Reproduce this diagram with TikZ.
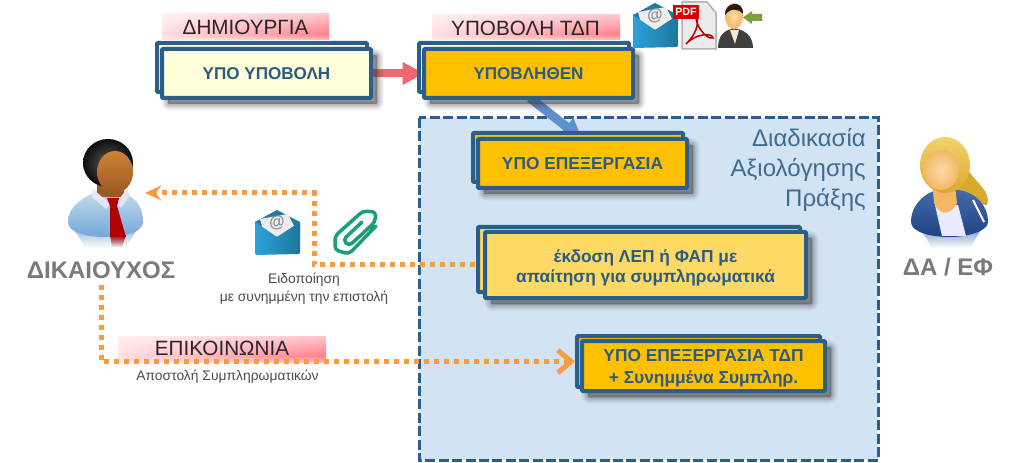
\documentclass[tikz,border=0pt]{standalone}
\usepackage{fontspec}
\setmainfont{Liberation Sans}
\usetikzlibrary{arrows.meta,shadows,fadings,calc}

\def\px{0.75pt}
\definecolor{boxline}{HTML}{2A5F8C}
\definecolor{boxtext}{HTML}{2B5B82}
\definecolor{panelfill}{HTML}{D2E3F3}
\definecolor{amber}{HTML}{FFC000}
\definecolor{paleamber}{HTML}{FFD966}
\definecolor{cream}{HTML}{FFFFD9}
\definecolor{dotorange}{HTML}{F79C40}
\definecolor{bandred}{HTML}{FF6A78}
\definecolor{mailblue}{HTML}{2AA3DA}
\definecolor{arrowred}{HTML}{F0686F}
\definecolor{arrowblue}{HTML}{5F90CE}
\definecolor{clipgreen}{HTML}{1B9E7A}
\definecolor{shirtlight}{HTML}{C2DCEF}
\definecolor{shirtdark}{HTML}{74A7D6}
\definecolor{skinbrown}{HTML}{C8823C}
\definecolor{skindark}{HTML}{9C5A22}
\definecolor{jacketblue}{HTML}{24509C}
\definecolor{hairlight}{HTML}{F2D36B}
\definecolor{hairdark}{HTML}{D9A92E}
\definecolor{skinpale}{HTML}{FBDCA8}
\definecolor{skintan}{HTML}{F2B864}
\definecolor{arrowolive}{HTML}{7F9F3F}

\tikzset{
    softshadow/.style={
        general shadow={shadow xshift=6*\px, shadow yshift=-6*\px, fill=black!75, draw=black!75, line width=13*\px, line join=round, fill opacity=.08, draw opacity=.08},
        general shadow={shadow xshift=6*\px, shadow yshift=-6*\px, fill=black!75, draw=black!75, line width=9*\px, line join=round, fill opacity=.12, draw opacity=.12},
        general shadow={shadow xshift=6*\px, shadow yshift=-6*\px, fill=black!75, draw=black!75, line width=5*\px, line join=round, fill opacity=.16, draw opacity=.16},
        general shadow={shadow xshift=6*\px, shadow yshift=-6*\px, fill=black!75, draw=black!75, line width=1*\px, line join=round, fill opacity=.2, draw opacity=.2},
    },
    boxback/.style={draw=boxline, line width=4*\px, rounded corners=0.8pt, inner sep=0pt},
    boxfront/.style={boxback, softshadow, text=boxtext, align=center},
    bandtext/.style={font=\fontsize{15.5}{18}\selectfont, text=black!85, inner sep=0pt},
    roletext/.style={font=\fontsize{18}{20}\selectfont\bfseries, text=black!52, inner sep=0pt},
    smalltext/.style={text=black!70, align=center, inner sep=0pt},
    dotline/.style={draw=dotorange, line width=5*\px, dash pattern=on 5*\px off 5*\px},
    mailicon/.pic={
        \fill[mailblue!75!black] (0,12) -- (22,0) -- (45,12) -- (45,26) -- (0,26) -- cycle;
        \fill[black!7] (5,9) -- (33,4) -- (40,18) -- (22,29) -- (8,20) -- cycle;
        \node[rotate=10, text=black!45, font=\fontsize{12}{12}\selectfont\bfseries, inner sep=0pt] (-at) at (22,13) {@};
        \shade[left color=mailblue, right color=mailblue!72!black, rounded corners=1pt]
            (0,12) -- (22,27) -- (45,12) -- (45,44) -- (0,45) -- cycle;
    },
}

\newcommand{\redband}[4]{
    \fill[left color=bandred!25, right color=bandred] (#1,#2) rectangle (#3,#4);
    \fill[white, path fading=south, opacity=.65] (#1-1,#2-1) rectangle (#3+1,#4);
    \fill[white, path fading=north, opacity=.7] (#1-1,#4-6) rectangle (#3+1,#4+1);
}

\begin{document}
\begin{tikzpicture}[x=0.75pt, y=-0.75pt]
    \fill[white, use as bounding box] (0,0) rectangle (1024,463);

    % process panel
    \draw[boxline, fill=panelfill, line width=3*\px, dash pattern=on 10*\px off 3.4*\px] (419,118) rectangle (878,460);

    \coordinate (bluefrom) at (530,98);
    \coordinate (bluetip) at (582,139);
    \coordinate (cornerdot) at (314,193);
    \coordinate (mantip) at (145,193);

    \draw[dotline, -{Stealth[length=12pt,width=11pt]}] (485,265) -| (cornerdot) -- (mantip);
    \draw[draw=arrowred, line width=8*\px, -{Triangle[length=16pt,width=16pt]}] (371,73.5) -- (424,73.5);
    \draw[draw=arrowblue, line width=9*\px, -{Triangle[length=15pt,width=16pt]}] (bluefrom) -- (bluetip);

    % boxes
    \node[boxback, fill=cream, minimum width=210*\px, minimum height=49*\px] (draftback) at (262,67.5) {};
    \node[boxfront, fill=cream, minimum width=209*\px, minimum height=49*\px, font=\fontsize{12.8}{14}\selectfont\bfseries] (draft) at (266.5,73.5) {ΥΠΟ ΥΠΟΒΟΛΗ};
    \node[boxback, fill=cream, minimum width=210*\px, minimum height=49*\px] (sentback) at (524,67.5) {};
    \node[boxfront, fill=amber, minimum width=209*\px, minimum height=49*\px, font=\fontsize{12.8}{14}\selectfont\bfseries] (sent) at (528.5,73.5) {ΥΠΟΒΛΗΘΕΝ};
    \node[boxback, fill=amber, minimum width=210*\px, minimum height=49*\px] (reviewback) at (578,157.5) {};
    \node[boxfront, fill=amber, minimum width=209*\px, minimum height=49*\px, font=\fontsize{13}{14}\selectfont\bfseries] (review) at (582.5,163.5) {ΥΠΟ ΕΠΕΞΕΡΓΑΣΙΑ};
    \node[boxback, fill=paleamber, minimum width=322*\px, minimum height=65*\px] (issueback) at (639,259.5) {};
    \node[boxfront, fill=paleamber, minimum width=321*\px, minimum height=66*\px, font=\fontsize{13}{15}\selectfont\bfseries] (issue) at (645.5,265) {\rule{0pt}{14pt}έκδοση ΛΕΠ ή ΦΑΠ με\\απαίτηση για συμπληρωματικά};
    \node[boxback, fill=amber, minimum width=243*\px, minimum height=51*\px] (extraback) at (698.5,361.5) {};
    \node[boxfront, fill=amber, minimum width=243*\px, minimum height=50*\px, font=\fontsize{13}{16.5}\selectfont\bfseries] (extra) at (703.5,366) {\rule{0pt}{13pt}ΥΠΟ ΕΠΕΞΕΡΓΑΣΙΑ ΤΔΠ\\+ Συνημμένα Συμπληρ.};

    % stage labels
    \redband{162}{14}{329}{40}
    \redband{432}{15}{620}{40}
    \redband{118}{336}{326}{362}
    \node[bandtext] (create) at (245.5,27) {ΔΗΜΙΟΥΡΓΙΑ};
    \node[bandtext] (submit) at (525.5,28) {ΥΠΟΒΟΛΗ ΤΔΠ};
    \node[bandtext] (contact) at (222,348) {ΕΠΙΚΟΙΝΩΝΙΑ};
    \node[font=\fontsize{18}{22.5}\selectfont, text=boxtext!90!white, align=right, inner sep=0pt, anchor=east] (steps) at (866,170) {Διαδικασία\\Αξιολόγησης\\Πράξης};
    \node[smalltext, font=\fontsize{10.4}{13.5}\selectfont] (notice) at (304,289) {Ειδοποίηση\\με συνημμένη την επιστολή};
    \node[smalltext, font=\fontsize{10.4}{12}\selectfont] (send) at (227.5,377) {Αποστολή Συμπληρωματικών};
    \node[roletext] (benef) at (101,270) {ΔΙΚΑΙΟΥΧΟΣ};
    \node[roletext] (officer) at (948,267) {ΔΑ / ΕΦ};

    \draw[dotline, -{Straight Barb[length=10pt,width=17pt]}] ($(benef.south)+(0,6)$) |- (extraback.west);

    % man
    \fill[shirtdark!70!white, path fading=south] (74,230) -- (137,230) -- (125,248) -- (86,248) -- cycle;
    \fill[red!65!black, path fading=south] (110,235) -- (126,235) -- (122,247) -- (112,247) -- cycle;
    \shade[top color=shirtlight, bottom color=shirtdark]
        (68,222) .. controls (68,205) and (85,197) .. (97,191) -- (120,191) .. controls (135,197) and (143,205) .. (143,222)
        .. controls (143,232) and (125,237) .. (105,237) .. controls (85,237) and (68,232) .. (68,222) -- cycle;
    \fill[skindark] (97,178) rectangle (124,197);
    \fill[white!90!blue] (93,189) -- (110,204) -- (106,209) -- (92,197) -- cycle;
    \fill[white!90!blue] (127,189) -- (116,203) -- (121,208) -- (130,195) -- cycle;
    \fill[red!70!black] (107,198) -- (119,198) -- (117,206) -- (126,237) -- (110,237) -- (110,206) -- cycle;
    \shade[inner color=black!65, outer color=black!95] (108,163) ellipse (25 and 24);
    \shade[top color=skinbrown!90!orange, bottom color=skindark] (115,172) ellipse (18 and 21);

    % woman
    \fill[jacketblue!60!white, path fading=south] (920,228) -- (982,228) -- (970,248) -- (932,248) -- cycle;
    \fill[hairdark] (962,160) .. controls (975,185) and (992,190) .. (987,205) .. controls (975,205) and (955,195) .. (950,185) -- cycle;
    \shade[top color=jacketblue!85!white, bottom color=jacketblue!85!black]
        (911,222) .. controls (911,205) and (925,192) .. (938,190) -- (958,190) .. controls (975,192) and (988,205) .. (988,222)
        .. controls (988,232) and (965,237) .. (950,237) .. controls (930,237) and (911,232) .. (911,222) -- cycle;
    \fill[white!92!blue] (935,205) -- (958,205) -- (966,236) -- (942,236) -- cycle;
    \draw[white, line width=2*\px] (973,200) -- (984,222);
    \fill[skintan] (932,178) -- (954,178) -- (957,203) .. controls (950,216) and (940,216) .. (934,203) -- cycle;
    \shade[top color=hairlight, bottom color=hairdark] (945,165) ellipse (25 and 28);
    \shade[inner color=skinpale, outer color=skintan] (941,170) ellipse (18 and 20);

    % mail, clip
    \pic (mailnote) at (255,210) {mailicon};
    \pic (mailsent) at (633,3) {mailicon};
    \draw[clipgreen, line width=3.5*\px, line cap=round, line join=round, rounded corners=3pt]
        (376,226) -- (349,254) -- (335,250) -- (335,236) -- (363,211) -- (376,212) -- (375,222) -- (349,246) -- (343,240) -- (362,222);

    % pdf page
    \filldraw[fill=black!8, draw=black!30, line width=1.5*\px] (682,2) -- (707,2) -- (716,13) -- (716,49) -- (682,49) -- cycle;
    \draw[red!75!black, line width=1.5*\px] (686,44) .. controls (700,30) and (698,20) .. (696,14) .. controls (694,24) and (706,40) .. (713,38) .. controls (712,32) and (695,34) .. (686,44) -- cycle;
    \node[fill=red!85!black, text=white, font=\fontsize{8}{8}\selectfont\bfseries, inner sep=1pt, minimum width=26*\px, minimum height=14*\px] (pdftag) at (686,12) {PDF};

    % sender
    \fill[black!75] (718,48) .. controls (718,34) and (726,30) .. (734,28) .. controls (745,30) and (753,36) .. (753,48) -- cycle;
    \fill[orange!20!white] (730,30) -- (739,30) -- (735,44) -- cycle;
    \shade[inner color=skinpale, outer color=skintan] (734,16) ellipse (9 and 13);
    \fill[black!80!brown] (725,15) .. controls (724,2) and (744,-1) .. (743,14) .. controls (738,8) and (730,8) .. (725,15) -- cycle;
    \fill[arrowolive] (762,14) -- (752,14) -- (752,11) -- (743,17.5) -- (752,24) -- (752,21) -- (762,21) -- cycle;
\end{tikzpicture}
\end{document}
